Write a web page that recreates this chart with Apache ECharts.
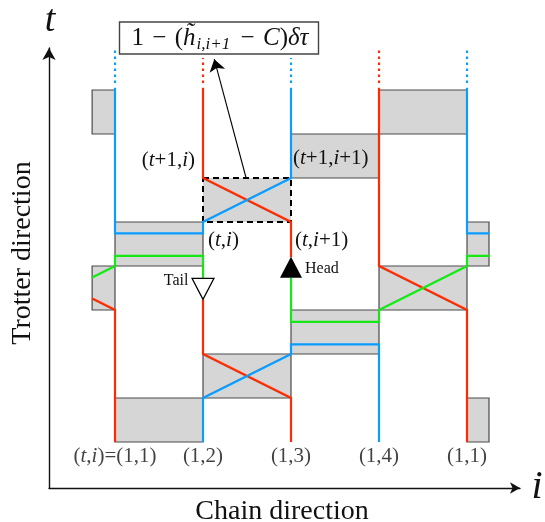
<!DOCTYPE html>
<html><head><meta charset="utf-8">
<script src="https://cdn.jsdelivr.net/npm/echarts@6/dist/echarts.min.js"></script>
<style>html,body{margin:0;padding:0;background:#fff}#c{width:545px;height:522px}</style>
</head><body><div id="c"></div>
<script>
// ---- data (chain site index, Trotter time) ----
const sites = ['(t,i)=(1,1)', '(1,2)', '(1,3)', '(1,4)', '(1,1)'];
const siteCols = [1, 2, 3, 4, 5];
// plaquettes: [col0, col1, t0, t1]
const plaquettes = [
  [0.74, 1, 7, 8], [4, 5, 7, 8], [3, 4, 6, 7], [1, 2, 4, 5], [5, 5.25, 4, 5],
  [0.74, 1, 3, 4], [4, 5, 3, 4], [3, 4, 2, 3], [2, 3, 1, 2], [1, 2, 0, 1], [5, 5.25, 0, 1]
];
const selectedPlaquette = [[2, 3, 5, 6]];
const redPaths = [
  [[2, 8.05], [2, 6], [3, 5], [3, 4.2]],
  [[4, 8.05], [4, 4], [5, 3], [5, 0]],
  [[0.74, 3.26], [1, 3], [1, 0]],
  [[2, 3.24], [2, 2], [3, 1], [3, 0]]
];
const bluePaths = [
  [[1, 8.05], [1, 4.74], [2, 4.74], [2, 5], [3, 6], [3, 8.05]],
  [[4, 0], [4, 2.22], [3, 2.22], [3, 2], [2, 1], [2, 0]],
  [[5, 8.05], [5, 4.74], [5.25, 4.74]]
];
const greenPaths = [
  [[3, 3.73], [3, 2.73], [4, 2.73], [4, 3], [5, 4], [5, 4.23], [5.25, 4.23]],
  [[0.74, 3.74], [1, 4], [1, 4.23], [2, 4.23], [2, 3.73]]
];
// dotted continuations: [col, tFrom, tTo]
const redDotted = [[2, 8.16, 8.73], [4, 8.16, 8.95]];
const blueDotted = [[1, 8.16, 8.95], [3, 8.16, 8.73], [5, 8.16, 8.95]];
const headPoint = [[3, 3.97]];
const tailPoint = [[2, 3.48]];
const pointer = [[2.49, 6], [2.128, 8.70]];

// ---- styles ----
const RED = '#ff2a00', BLUE = '#0a9cff', GREEN = '#16e816';
const SERIF = '"Liberation Serif","Times New Roman",serif';
const LW = 2.2;

function rectRender(style) {
  return function (params, api) {
    const p0 = api.coord([api.value(0), api.value(3)]);
    const p1 = api.coord([api.value(1), api.value(2)]);
    return { type: 'rect', shape: { x: p0[0], y: p0[1], width: p1[0] - p0[0], height: p1[1] - p0[1] }, style: style };
  };
}
function pathSeries(paths, color) {
  return paths.map(p => ({
    type: 'line', data: p, showSymbol: false, symbol: 'none', clip: false, z: 5,
    lineStyle: { color: color, width: LW, cap: 'butt', join: 'miter' }, silent: true
  }));
}
function dottedSeries(list, color) {
  return list.map(d => ({
    type: 'line', data: [[d[0], d[1]], [d[0], d[2]]], showSymbol: false, symbol: 'none', clip: false, z: 5,
    lineStyle: { color: color, width: LW, type: [2.4, 3.6] }, silent: true
  }));
}
const itRich = { it: { fontStyle: 'italic', fontFamily: SERIF, fontSize: 21, color: '#111' } };
function richText(s) { return s.replace(/([ti])/g, '{it|$1}'); }

const chart = echarts.init(document.getElementById('c'));
const option = {
  animation: false,
  backgroundColor: '#fff',
  grid: { left: 49, bottom: 34, top: 48, right: 25 },
  xAxis: {
    type: 'value', min: 0.25, max: 5.6023,
    axisLine: { show: true, onZero: false, symbol: ['none', 'arrow'], symbolSize: [8.5, 10], lineStyle: { color: '#111', width: 1.4 } },
    axisTick: { show: false }, axisLabel: { show: false }, splitLine: { show: false }
  },
  yAxis: {
    type: 'value', min: -1.0455, max: 8.9545,
    axisLine: { show: true, onZero: false, symbol: ['none', 'arrow'], symbolSize: [10, 12], lineStyle: { color: '#111', width: 1.4 } },
    axisTick: { show: false }, axisLabel: { show: false }, splitLine: { show: false }
  },
  series: [
    { type: 'custom', data: plaquettes, encode: { x: [0, 1], y: [2, 3] }, z: 2, clip: false, silent: true,
      renderItem: rectRender({ fill: '#d6d6d6', stroke: '#4a4a4a', lineWidth: 1.2 }) },
    { type: 'custom', data: selectedPlaquette, encode: { x: [0, 1], y: [2, 3] }, z: 2, clip: false, silent: true,
      renderItem: rectRender({ fill: '#d6d6d6', stroke: '#000', lineWidth: 2, lineDash: [6, 4] }) },
    ...pathSeries(redPaths, RED),
    ...pathSeries(bluePaths, BLUE),
    ...pathSeries(greenPaths, GREEN),
    ...dottedSeries(redDotted, RED),
    ...dottedSeries(blueDotted, BLUE),
    { type: 'lines', coordinateSystem: 'cartesian2d', z: 6, silent: true,
      data: [{ coords: pointer }], symbol: ['none', 'arrow'], symbolSize: [8, 12],
      lineStyle: { color: '#000', width: 1.1, opacity: 1 } },
    { type: 'scatter', data: headPoint, symbol: 'triangle', symbolSize: [22, 21], z: 7, silent: true,
      itemStyle: { color: '#000', opacity: 1 },
      label: { show: true, position: 'right', distance: 3, formatter: 'Head', fontFamily: SERIF, fontSize: 16, color: '#111', offset: [0, 1] } },
    { type: 'scatter', data: tailPoint, symbol: 'triangle', symbolSize: [22, 21], symbolRotate: 180, z: 7, silent: true,
      itemStyle: { color: '#fff', borderColor: '#000', borderWidth: 1.2, opacity: 1 },
      label: { show: true, position: 'left', distance: 3, formatter: 'Tail', fontFamily: SERIF, fontSize: 16, color: '#111', offset: [0, -8] } },
    { type: 'scatter', data: siteCols.map((c, k) => [c, -0.33, sites[k]]), symbolSize: 1, z: 7, silent: true,
      itemStyle: { color: 'rgba(0,0,0,0)' },
      label: { show: true, position: 'inside', formatter: p => richText(p.data[2]), fontFamily: SERIF, fontSize: 21, color: '#111', rich: itRich } }
  ],
  graphic: [
    { type: 'text', x: 50, y: 21, z: 10, style: { text: 't', font: 'italic 38px ' + SERIF, fill: '#111', align: 'center', verticalAlign: 'middle', textAlign: 'center', textVerticalAlign: 'middle' } },
    { type: 'text', x: 537, y: 487, z: 10, style: { text: 'i', font: 'italic 40px ' + SERIF, fill: '#111', align: 'center', verticalAlign: 'middle', textAlign: 'center', textVerticalAlign: 'middle' } },
    { type: 'text', x: 23, y: 253, rotation: Math.PI / 2, z: 10, style: { text: 'Trotter direction', font: '28px ' + SERIF, fill: '#111', align: 'center', verticalAlign: 'middle', textAlign: 'center', textVerticalAlign: 'middle' } },
    { type: 'text', x: 282, y: 512, z: 10, style: { text: 'Chain direction', font: '28px ' + SERIF, fill: '#111', align: 'center', verticalAlign: 'middle', textAlign: 'center', textVerticalAlign: 'middle' } },
    { type: 'rect', z: 10, shape: { x: 119.5, y: 22, width: 199, height: 32 }, style: { fill: '#fff', stroke: '#444', lineWidth: 1.4 } },
    { type: 'text', x: 220, y: 38, z: 11, style: {
        text: '{n|1\u2004\u2212\u2004(}{it|h\u0303}{sub|i,i+1}{n|\u2004\u2212\u2004}{it|C}{n|)}{it|\u03b4\u03c4}',
        align: 'center', verticalAlign: 'middle', textAlign: 'center', textVerticalAlign: 'middle',
        fontFamily: SERIF, fontSize: 25, fill: '#111',
        rich: {
          n: { fontFamily: SERIF, fontSize: 25, lineHeight: 30, color: '#111', verticalAlign: 'middle' },
          it: { fontFamily: SERIF, fontSize: 25, fontStyle: 'italic', lineHeight: 30, color: '#111', verticalAlign: 'middle' },
          sub: { fontFamily: SERIF, fontSize: 17, fontStyle: 'italic', lineHeight: 17, color: '#111', verticalAlign: 'bottom', padding: [0, 2, 0, 1] }
        } } },
    { type: 'text', x: 195, y: 160, z: 10, style: { text: '({it|t}+1,{it|i})', fontFamily: SERIF, fontSize: 21, fill: '#111', align: 'right', verticalAlign: 'middle', textAlign: 'right', textVerticalAlign: 'middle', rich: itRich } },
    { type: 'text', x: 293, y: 158, z: 10, style: { text: '({it|t}+1,{it|i}+1)', fontFamily: SERIF, fontSize: 21, fill: '#111', align: 'left', verticalAlign: 'middle', textAlign: 'left', textVerticalAlign: 'middle', rich: itRich } },
    { type: 'text', x: 208, y: 240, z: 10, style: { text: '({it|t},{it|i})', fontFamily: SERIF, fontSize: 21, fill: '#111', align: 'left', verticalAlign: 'middle', textAlign: 'left', textVerticalAlign: 'middle', rich: itRich } },
    { type: 'text', x: 295, y: 240, z: 10, style: { text: '({it|t},{it|i}+1)', fontFamily: SERIF, fontSize: 21, fill: '#111', align: 'left', verticalAlign: 'middle', textAlign: 'left', textVerticalAlign: 'middle', rich: itRich } }
  ]
};
chart.setOption(option);
</script></body></html>
